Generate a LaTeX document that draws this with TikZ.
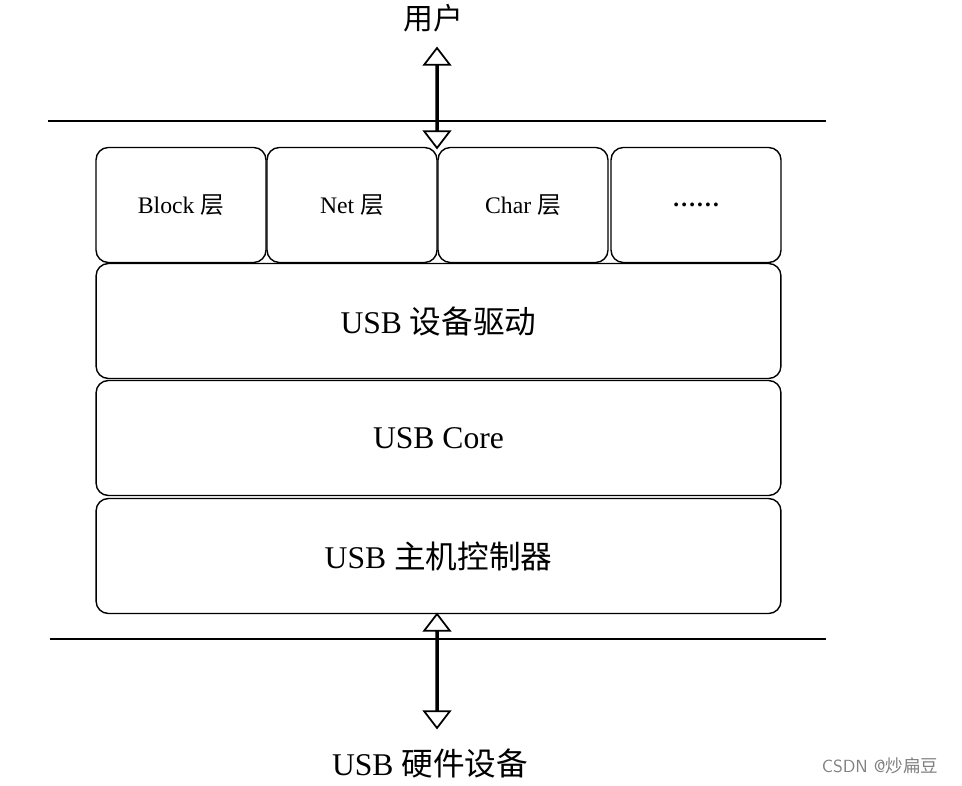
\documentclass[tikz,border=0pt]{standalone}
\usepackage{fontspec}
\setmainfont{Liberation Serif}
\newfontfamily\cjk{Noto Sans CJK SC}
\usetikzlibrary{positioning, shapes.arrows}

\tikzset{
  layer/.style={draw, line width=0.8pt, rounded corners=7pt, minimum height=2.3cm, inner sep=0pt},
  small/.style={layer, minimum width=3.4cm, font=\fontsize{13.5}{16}\selectfont},
  wide/.style={layer, minimum width=13.7cm, font=\fontsize{18}{21}\selectfont},
  passage/.style={draw, line width=1pt, fill=white, double arrow, shape border rotate=90,
    minimum height=2.0cm, minimum width=0.4cm, double arrow head extend=0.24cm,
    double arrow tip angle=75, inner sep=0pt},
  bound/.style={line width=1.6pt}
}

\begin{document}
\begin{tikzpicture}[x=0.02cm, y=-0.02cm]
  \useasboundingbox (0,0) rectangle (962,786);

  % Boundaries
  \coordinate (tl) at (48,121);  \coordinate (tr) at (826,121);
  \coordinate (bl) at (50,639);  \coordinate (br) at (826,639);
  \draw[bound] (tl) -- (tr);
  \draw[bound] (bl) -- (br);

  % Upper layers
  \node[small] (block) at (181,205) {Block {\cjk 层}};
  \node[small] (net)   at (352,205) {Net {\cjk 层}};
  \node[small] (char)  at (523,205) {Char {\cjk 层}};
  \node[small] (more)  at (696,205) {\textbf{\dots\dots}};

  % Stack
  \node[wide] (drv)  at (438.5,321) {USB {\cjk 设备驱动}};
  \node[wide] (core) at (438.5,438) {USB Core};
  \node[wide] (hcd)  at (438.5,556) {USB {\cjk 主机控制器}};

  % Interfaces
  \node[passage] (up)   at (437,98)  {};
  \node[passage, minimum height=2.28cm] (down) at (437,671) {};

  % Labels
  \node[font=\cjk\fontsize{17}{20}\selectfont] (user) at (433,18) {用户};
  \node[font=\fontsize{18}{21}\selectfont] (hw) at (430,763) {USB {\cjk 硬件设备}};
  \node[font=\sffamily\fontsize{10}{12}\selectfont, text=gray] (mark) at (880,766) {CSDN @{\cjk 炒扁豆}};
\end{tikzpicture}
\end{document}
